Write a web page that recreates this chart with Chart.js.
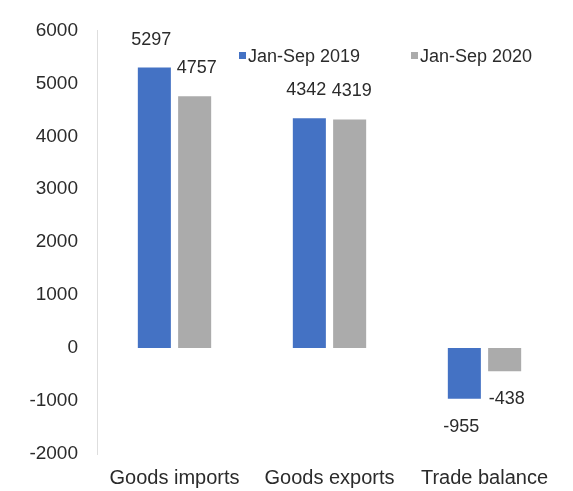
<!DOCTYPE html>
<html lang="en">
<head>
  <meta charset="UTF-8">
  <title>Goods trade, Jan-Sep 2019 vs 2020</title>
  <script src="https://cdn.jsdelivr.net/npm/chart.js"></script>
  <style>
    html, body { margin: 0; padding: 0; background: #fff; }
    #wrap { width: 573px; height: 491px; position: relative; }
  </style>
</head>
<body>

  <div id="wrap">
    <canvas id="tradeChart" aria-label="Goods trade chart" role="img"></canvas>
  </div>

  <script>
    // Chart data
    const categories = ['Goods imports', 'Goods exports', 'Trade balance'];
    const seriesNames = ['Jan-Sep 2019', 'Jan-Sep 2020'];
    const values2019 = [5297, 4342, -955];
    const values2020 = [4757, 4319, -438];
    const yTicks = [-2000, -1000, 0, 1000, 2000, 3000, 4000, 5000, 6000];

    const textColor = '#2b2b2b';
    const fontFamily = "'Liberation Sans', Arial, sans-serif";

    // Value labels above positive bars and below negative ones
    const valueLabels = {
      id: 'valueLabels',
      afterDatasetsDraw(chart) {
        const ctx = chart.ctx;
        const shift = [-3, 2];
        ctx.save();
        ctx.font = '18px ' + fontFamily;
        ctx.fillStyle = textColor;
        ctx.textAlign = 'center';
        ctx.textBaseline = 'middle';
        chart.data.datasets.forEach((ds, i) => {
          chart.getDatasetMeta(i).data.forEach((bar, j) => {
            const v = ds.data[j];
            const y = v >= 0 ? bar.y - 28 : bar.y + 28;
            ctx.fillText(String(v), bar.x + shift[i], y);
          });
        });
        ctx.restore();
      }
    };

    // Legend drawn inside the plot area, top right
    const innerLegend = {
      id: 'innerLegend',
      afterDraw(chart) {
        const ctx = chart.ctx;
        const xs = [239, 411];
        const y = 57;
        ctx.save();
        ctx.font = '18px ' + fontFamily;
        ctx.textBaseline = 'middle';
        ctx.textAlign = 'left';
        chart.data.datasets.forEach((ds, i) => {
          ctx.fillStyle = ds.backgroundColor;
          ctx.fillRect(xs[i], y - 5, 7, 7);
          ctx.fillStyle = textColor;
          ctx.fillText(ds.label, xs[i] + 9, y);
        });
        ctx.restore();
      }
    };

    const ctx = document.getElementById('tradeChart').getContext('2d');
    const tradeChart = new Chart(ctx, {
      type: 'bar',
      data: {
        labels: categories,
        datasets: [
          {
            label: seriesNames[0],
            data: values2019,
            backgroundColor: '#4472C4',
            categoryPercentage: 0.52,
            barPercentage: 0.82,
          },
          {
            label: seriesNames[1],
            data: values2020,
            backgroundColor: '#ABABAB',
            categoryPercentage: 0.52,
            barPercentage: 0.82,
          },
        ],
      },
      options: {
        responsive: true,
        maintainAspectRatio: false,
        animation: false,
        layout: {
          padding: { top: 27, right: 11, bottom: 0, left: 0 }
        },
        scales: {
          x: {
            afterFit(scale) {
              scale.height = 37;
            },
            grid: { display: false, drawTicks: false },
            border: { display: false },
            ticks: {
              color: textColor,
              font: { family: fontFamily, size: 20 },
              padding: 12,
              maxRotation: 0,
            },
          },
          y: {
            min: -2000,
            max: 6000,
            afterBuildTicks(scale) {
              scale.ticks = yTicks.map(v => ({ value: v }));
            },
            afterFit(scale) {
              scale.width = 97;
            },
            grid: { display: false, drawTicks: false },
            border: { display: true, color: '#dedede', width: 1 },
            ticks: {
              color: textColor,
              font: { family: fontFamily, size: 19 },
              padding: 19,
              callback: v => String(v),
            },
          },
        },
        plugins: {
          legend: { display: false },
          tooltip: { enabled: false },
        },
      },
      plugins: [valueLabels, innerLegend],
    });
  </script>

</body>
</html>
